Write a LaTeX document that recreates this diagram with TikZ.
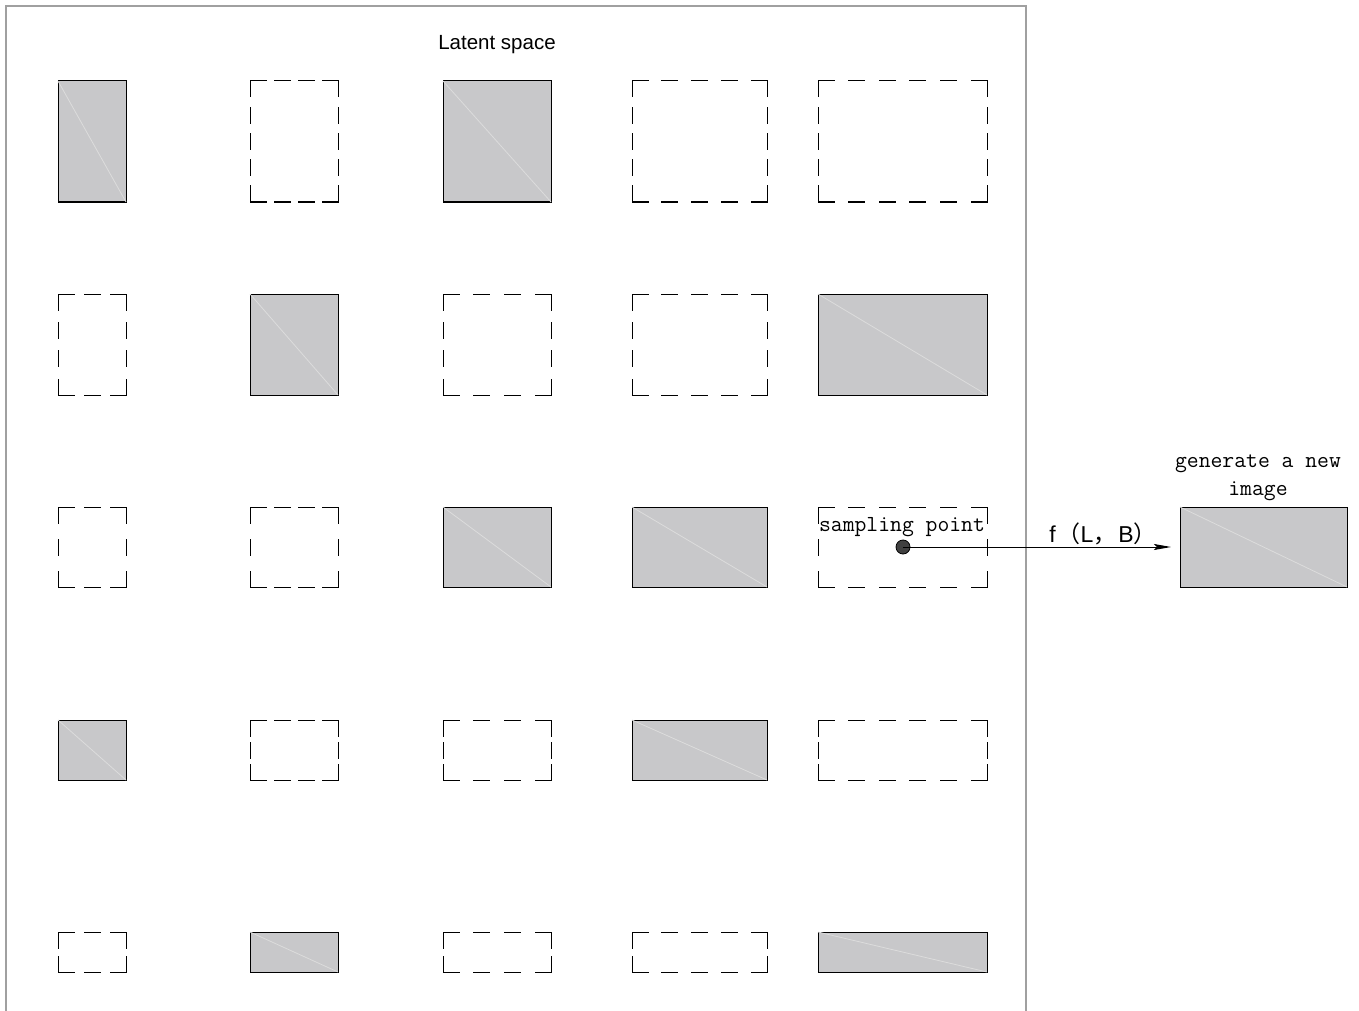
\documentclass[tikz,border=0pt]{standalone}
\usepackage{fontspec}
\setmainfont{Liberation Sans}
\newfontfamily\cjk{Noto Sans CJK SC}
\usetikzlibrary{arrows.meta}
\definecolor{boxgray}{HTML}{C8C8CA}
\definecolor{framegray}{HTML}{A0A0A0}
\definecolor{diaggray}{HTML}{DCDCDC}
\definecolor{dotgray}{HTML}{404040}
\newcommand\dside[4]{%
  \pgfmathsetmacro\sL{veclen((#3)-(#1),(#4)-(#2))}%
  \pgfmathsetmacro\sN{max(2,round((\sL+12)/28))}%
  \pgfmathsetmacro\sG{(\sL-16*\sN)/(\sN-1)}%
  \draw[dline, dash pattern=on 16pt off \sG pt] (#1,#2) -- (#3,#4);%
}
\newcommand\grbox[5]{%
  \node[gbox, minimum width={(#4)-(#2)}, minimum height={(#5)-(#3)}] (#1) at ({((#2)+(#4))/2},{((#3)+(#5))/2}) {};
  \draw[diag] (#1.north west) -- (#1.south east);
}
\newcommand\dsbox[5]{%
  \node[ebox, minimum width={(#4)-(#2)}, minimum height={(#5)-(#3)}] (#1) at ({((#2)+(#4))/2},{((#3)+(#5))/2}) {};
  \dside{#2}{#3}{#4}{#3}\dside{#4}{#3}{#4}{#5}\dside{#4}{#5}{#2}{#5}\dside{#2}{#5}{#2}{#3}%
}
\begin{document}
\begin{tikzpicture}[x=1pt,y=-1pt,
  gbox/.style={draw=black, fill=boxgray, line width=1pt, inner sep=0pt, outer sep=0pt},
  ebox/.style={inner sep=0pt, outer sep=0pt},
  diag/.style={draw=diaggray, line width=0.8pt},
  dline/.style={draw=black, line width=1pt, line cap=rect},
  frame/.style={draw=framegray, line width=1.3pt},
  lbl/.style={inner sep=0pt, font=\fontsize{20.5}{24}\selectfont},
  mono/.style={inner sep=0pt, align=center, font=\ttfamily\fontsize{23}{28}\selectfont}]
\useasboundingbox (0,0) rectangle (1359,1011);
\draw[frame] (6,1012) -- (6,6) -- (1026,6) -- (1026,1012);
\node[lbl] (title) at (497,45) {Latent space};
% row 1
\grbox{a11}{58}{81}{126}{202}
\dsbox{a12}{250}{81}{338}{202}
\grbox{a13}{443}{81}{551}{202}
\dsbox{a14}{632}{81}{767}{202}
\dsbox{a15}{818}{81}{987}{202}
% row 2
\dsbox{a21}{58}{294}{126}{395}
\grbox{a22}{250}{294}{338}{395}
\dsbox{a23}{443}{294}{551}{395}
\dsbox{a24}{632}{294}{767}{395}
\grbox{a25}{818}{294}{987}{395}
% row 3
\dsbox{a31}{58}{507}{126}{587}
\dsbox{a32}{250}{507}{338}{587}
\grbox{a33}{443}{507}{551}{587}
\grbox{a34}{632}{507}{767}{587}
\dsbox{a35}{818}{507}{987}{587}
% row 4
\grbox{a41}{58}{720}{126}{780}
\dsbox{a42}{250}{720}{338}{780}
\dsbox{a43}{443}{720}{551}{780}
\grbox{a44}{632}{720}{767}{780}
\dsbox{a45}{818}{720}{987}{780}
% row 5
\dsbox{a51}{58}{932}{126}{972}
\grbox{a52}{250}{932}{338}{972}
\dsbox{a53}{443}{932}{551}{972}
\dsbox{a54}{632}{932}{767}{972}
\grbox{a55}{818}{932}{987}{972}
% new image
\grbox{new}{1180}{507}{1347}{587}
\node[mono] (samp) at (902,527) {sampling point};
\node[mono] (gen) at (1258,478) {generate a new\\image};
\node[circle, draw=black, fill=dotgray, line width=0.8pt, minimum size=14pt, inner sep=0pt] (dot) at (903,547) {};
\draw[line width=1pt, -{Stealth[length=17pt,width=6pt,inset=3pt]}, shorten >=9pt] (dot.center) -- (new.west);
\node[lbl, font=\fontsize{23}{26}\selectfont] (flab) at (1103,534) {f\kern2pt{\cjk （}L{\cjk ，}\kern2pt B{\cjk ）}};
\end{tikzpicture}
\end{document}
